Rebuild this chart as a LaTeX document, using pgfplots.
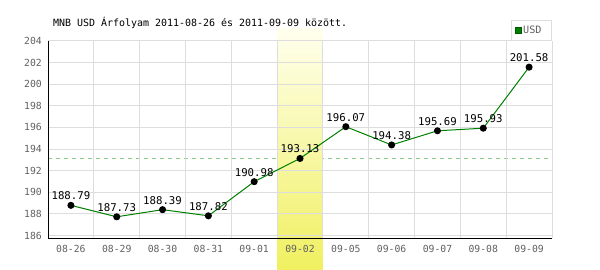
\documentclass[border=0pt]{standalone}
\usepackage{fontspec}
\setmainfont{DejaVu Sans Mono}
\setmonofont{DejaVu Sans Mono}
\usepackage{pgfplots}
\pgfplotsset{compat=1.18}
\definecolor{gridc}{RGB}{221,221,221}
\definecolor{tickc}{RGB}{96,96,96}
\definecolor{linec}{RGB}{0,128,0}
\definecolor{avgc}{RGB}{136,204,136}
\definecolor{hitop}{RGB}{255,255,238}
\definecolor{hibot}{RGB}{240,240,96}
\pgfplotsset{
  layers/mylayers/.define layer set={axis background,axis grid,hl,axis ticks,axis lines,axis tick labels,pre main,main,axis descriptions,axis foreground}{},
}
\begin{document}
\begin{tikzpicture}
\begin{axis}[
  set layers=mylayers,
  scale only axis, width=504bp, height=197.3bp,
  xmin=-0.5, xmax=10.5, ymin=185.74, ymax=204,
  clip=false,
  axis x line*=bottom, axis y line*=left,
  axis line style={black, line width=1bp, -},
  xtick={0,...,10},
  xticklabels={08-26,08-29,08-30,08-31,09-01,09-02,09-05,09-06,09-07,09-08,09-09},
  minor xtick={0.5,1.5,...,10.5},
  xminorgrids, ymajorgrids, xmajorgrids=false,
  grid style={gridc, line width=1bp},
  minor grid style={gridc, line width=1bp},
  ytick={186,188,...,204},
  major tick length=0pt, minor tick length=0pt,
  /pgf/number format/assume math mode=true,
  tick label style={font=\fontsize{9.8}{10}\selectfont, text=tickc},
  xticklabel style={anchor=north, inner sep=0pt, yshift=-6.7bp},
  yticklabel style={anchor=east, inner sep=0pt, xshift=-6bp},
  title={MNB USD Árfolyam 2011-08-26 és 2011-09-09 között.},
  title style={at={(0,1)}, anchor=base west, inner sep=0pt, xshift=5bp, yshift=9bp, font=\fontsize{10}{10}\selectfont},
  legend style={at={(1,1)}, anchor=south east, draw=gridc, line width=1bp, fill=white,
    inner xsep=3bp, inner ysep=3.5bp, font=\fontsize{10.2}{10}\selectfont, text=tickc,
    nodes={inner xsep=2bp, inner ysep=2bp}},
  legend cell align=left,
]
\addplot[forget plot, on layer=hl, avgc, line width=1bp, dash pattern=on 4bp off 4bp] coordinates {(-0.5,193.13) (10.5,193.13)};
\addplot[forget plot, on layer=hl, draw=none, top color=hitop, bottom color=hibot] coordinates {(4.5,182.8) (4.5,205.2) (5.5,205.2) (5.5,182.8)} -- cycle;
\addplot[forget plot, linec, line width=1bp, mark=*, mark size=3bp, mark options={black, fill=black},
  nodes near coords, point meta=explicit symbolic,
  every node near coord/.append style={black, font=\fontsize{10.75}{11}\selectfont, anchor=south, inner sep=0pt, yshift=5bp}]
coordinates {
(0,188.79) [188.79]
(1,187.73) [187.73]
(2,188.39) [188.39]
(3,187.82) [187.82]
(4,190.98) [190.98]
(5,193.13) [193.13]
(6,196.07) [196.07]
(7,194.38) [194.38]
(8,195.69) [195.69]
(9,195.93) [195.93]
(10,201.58) [201.58]
};
\addlegendimage{legend image code/.code={\filldraw[fill=linec, draw=linec!70!black, line width=0.6bp] (0bp,-3bp) rectangle (6bp,3bp);}}
\addlegendentry{USD\hspace*{5bp}}
\end{axis}
\pgfresetboundingbox
\useasboundingbox (-48bp,-31.7bp) rectangle (552bp,238.3bp);
\end{tikzpicture}
\end{document}
